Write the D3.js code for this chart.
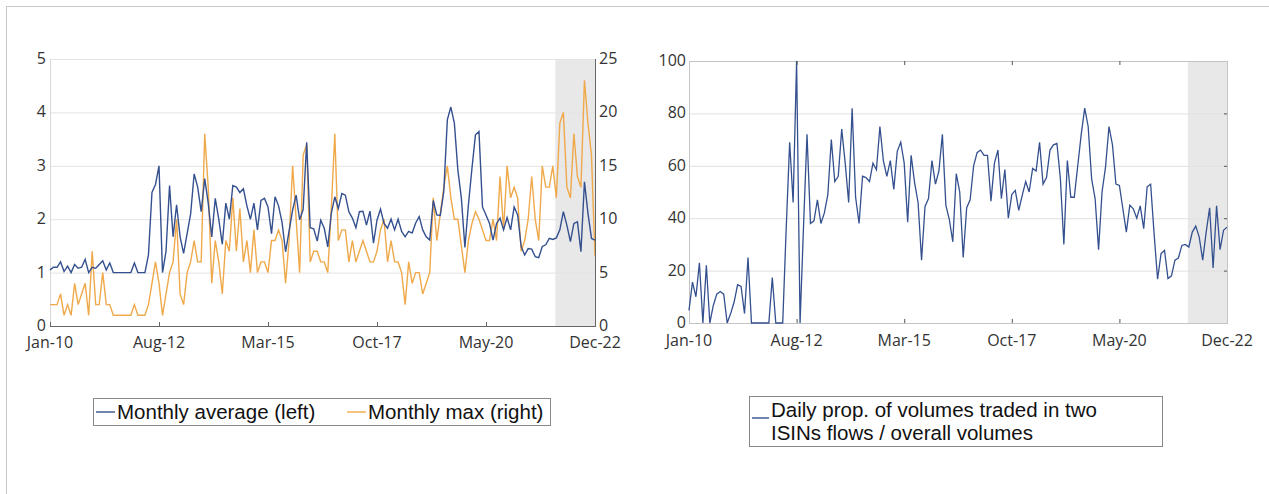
<!DOCTYPE html>
<html>
<head>
<meta charset="utf-8">
<script src="https://cdn.jsdelivr.net/npm/d3@7"></script>
<style>
	body { margin: 0; background: #fff; }
	svg { display: block; }
	.tick-label { font-family: "Open Sans", sans-serif; font-size: 16px; fill: #333; }
	.legend-text { font-family: "Liberation Sans", Arial, sans-serif; font-size: 20.5px; fill: #111; }
</style>
</head>
<body>
<div id="chart"></div>
<script>
// month categories Jan-10 .. Dec-22
var months = d3.timeMonth.range(new Date(2010, 0, 1), new Date(2023, 0, 1));
var tickLabels = ["Jan-10", "Aug-12", "Mar-15", "Oct-17", "May-20", "Dec-22"];
var shadeFrom = "Jan-22";

// left panel: monthly average (left axis)
var monthlyAvg = [
	1.05,1.1,1.1,1.2,1.02,1.12,1.0,1.15,1.08,1.1,1.25,1.0,1.1,1.08,1.15,1.22,1.05,1.18,
	1.0,1.0,1.0,1.0,1.0,1.0,1.18,1.0,1.0,1.0,1.33,
	2.5,2.65,3.0,1.0,1.4,2.63,1.67,2.27,1.67,1.36,1.73,2.1,2.85,2.6,2.14,
	2.76,2.3,1.67,2.39,2.0,1.53,2.3,2.0,2.63,2.6,2.5,2.57,
	2.25,2.0,2.3,1.8,2.35,2.39,2.23,1.73,2.42,2.25,1.94,1.39,1.78,2.17,2.45,1.99,2.18,3.44,1.84,1.82,
	1.59,1.98,1.83,1.48,2.11,2.42,2.2,2.48,2.45,2.14,2.02,1.84,2.14,2.15,1.89,2.15,1.55,1.98,2.19,1.92,
	1.83,2.0,1.8,2.0,1.77,1.67,1.77,1.74,1.93,2.05,1.8,1.67,1.61,
	2.35,2.08,2.07,2.52,3.86,4.1,3.8,2.92,2.39,1.47,2.27,2.95,3.58,3.64,2.23,2.08,1.92,
	1.61,1.92,2.02,1.8,2.03,1.8,2.23,2.08,1.49,1.33,1.45,1.44,1.3,1.28,1.49,1.52,1.64,1.62,
	1.65,1.8,2.14,1.89,1.58,1.92,1.95,1.39,2.7,2.11,1.64,1.61
];

// left panel: monthly max (right axis)
var monthlyMax = [
	2,2,2,3,1,2,1,4,2,3,4,1,7,2,2,5,2,2,
	1,1,1,1,1,1,2,1,1,1,2,
	4,6,4,1,3,5,6,10,3,2,5,6,8,6,6,
	18,13,4,8,6,3,8,7,12,7,11,6,
	8,5,9,5,6,6,5,8,8,9,8,4,8,15,10,5,16,17,6,7,
	7,6,6,5,11,18,8,9,9,6,8,6,7,8,7,6,6,7,9,10,
	6,8,6,6,5,2,6,4,5,5,3,4,5,
	12,8,10.5,13,15,12,10,10,7.5,5,8,9.6,10.7,10,9,8,8,
	10,8,14,9,15,12,13,12,7,8,10,14,10,8,15,13,13,15,
	12,19,20,13,12,18,14,13,23,19,16,6.5
];

// right panel: daily prop. of volumes in two ISINs flows (%)
var twoIsinProp = [
	4.8,15.6,10,23,0,22,0,6.7,11,12,11,0,3.6,8,14.6,14,3.6,25,
	0,0,0,0,0,0,17.3,0,0,0,36,
	69,46,100,0,37,72,38,39,47,38,42,49,70,54,56,
	74,61,46,82,48,38,56,55.5,54,61,58.5,75,
	62,56,62,51,65.5,69,61,38.5,64,53.5,46,24,44.5,47.5,62,53,58,72,45,39.5,
	31,57,50,25,44,47,60,65,66,64,64,46.5,61,66,47.5,58.6,40,49,50.6,43,
	48.7,54,50,59,58,69,53,55.5,66,68,68.5,55,30,
	62,48,48,60,72,82,75,55,47.5,28,50,59.5,75,68,53,52.5,43.6,
	34.7,45,43.6,40,44.7,36,52,53,34,16.7,26.5,27.7,17,18,24,24.8,29.6,30,
	29,34.7,37,32.8,24,34.7,44,21,44.7,28,35.4,36.6
];

var leftTicks = [0, 1, 2, 3, 4, 5];
var rightTicks = [0, 5, 10, 15, 20, 25];
var propTicks = [0, 20, 40, 60, 80, 100];

var fmt = d3.timeFormat("%b-%y");
var blue = "#34508f", orange = "#efa94a", shade = "#e8e8e8";

var svg = d3.select("#chart")
	.append("svg")
	.attr("width", 1269)
	.attr("height", 494);

svg.append("rect").attr("width", 1269).attr("height", 494).attr("fill", "#fff");

// outer frame (top and left edges only visible)
svg.append("line").attr("x1", 6).attr("x2", 1269).attr("y1", 6.5).attr("y2", 6.5).attr("stroke", "#c8c8c8");
svg.append("line").attr("x1", 6.5).attr("x2", 6.5).attr("y1", 6).attr("y2", 494).attr("stroke", "#c8c8c8");

var tickIdx = tickLabels.map(function(t) {
	return months.findIndex(function(m) { return fmt(m) === t; });
});
var shadeIdx = months.findIndex(function(m) { return fmt(m) === shadeFrom; });

// ---------- left panel ----------
var x1 = d3.scaleLinear().domain([0, months.length - 1]).range([50, 595]);
var yL = d3.scaleLinear().domain([0, 5]).range([326, 59]);
var yR = d3.scaleLinear().domain([0, 25]).range([326, 59]);

var g1 = svg.append("g");

g1.append("rect")
	.attr("x", x1(shadeIdx - 0.3))
	.attr("y", yL(5))
	.attr("width", x1(months.length - 1) - x1(shadeIdx - 0.3))
	.attr("height", yL(0) - yL(5))
	.attr("fill", shade);

g1.selectAll("line.grid")
	.data(leftTicks.slice(1))
	.enter().append("line")
	.attr("class", "grid")
	.attr("x1", x1(0)).attr("x2", x1(months.length - 1))
	.attr("y1", function(d) { return yL(d) + 0.5; })
	.attr("y2", function(d) { return yL(d) + 0.5; })
	.attr("stroke", "#e3e3e3");

g1.append("line")
	.attr("x1", x1(0) + 0.5).attr("x2", x1(0) + 0.5)
	.attr("y1", yL(5)).attr("y2", yL(0))
	.attr("stroke", "#d8d8d8");

var lineAvg = d3.line()
	.x(function(d, i) { return x1(i); })
	.y(function(d) { return yL(d); });
var lineMax = d3.line()
	.x(function(d, i) { return x1(i); })
	.y(function(d) { return yR(d); });

g1.append("path").datum(monthlyMax)
	.attr("d", lineMax).attr("fill", "none")
	.attr("stroke", orange).attr("stroke-width", 1.4);
g1.append("path").datum(monthlyAvg)
	.attr("d", lineAvg).attr("fill", "none")
	.attr("stroke", blue).attr("stroke-width", 1.4);

// bottom and right axis lines
g1.append("line")
	.attr("x1", x1(0)).attr("x2", x1(months.length - 1) + 1)
	.attr("y1", yL(0) + 0.5).attr("y2", yL(0) + 0.5)
	.attr("stroke", "#666");
g1.append("line")
	.attr("x1", x1(months.length - 1) + 0.5).attr("x2", x1(months.length - 1) + 0.5)
	.attr("y1", yL(5)).attr("y2", yL(0))
	.attr("stroke", "#666");

g1.selectAll("line.xtick")
	.data(tickIdx)
	.enter().append("line")
	.attr("class", "xtick")
	.attr("x1", function(d) { return x1(d) + 0.5; })
	.attr("x2", function(d) { return x1(d) + 0.5; })
	.attr("y1", yL(0)).attr("y2", yL(0) - 4)
	.attr("stroke", "#666");

g1.selectAll("text.xlab")
	.data(tickIdx)
	.enter().append("text")
	.attr("class", "tick-label")
	.attr("x", function(d) { return x1(d); })
	.attr("y", 348)
	.attr("text-anchor", "middle")
	.text(function(d, i) { return tickLabels[i]; });

g1.selectAll("text.ylab")
	.data(leftTicks)
	.enter().append("text")
	.attr("class", "tick-label")
	.attr("x", 46)
	.attr("y", function(d) { return yL(d) + 5; })
	.attr("text-anchor", "end")
	.text(function(d) { return d; });

g1.selectAll("text.rlab")
	.data(rightTicks)
	.enter().append("text")
	.attr("class", "tick-label")
	.attr("x", 599)
	.attr("y", function(d) { return yR(d) + 5; })
	.text(function(d) { return d; });

// legend
var leg1 = svg.append("g");
leg1.append("rect")
	.attr("x", 93.5).attr("y", 398.5).attr("width", 457).attr("height", 27)
	.attr("fill", "#fff").attr("stroke", "#888");
leg1.append("line").attr("x1", 96).attr("x2", 115).attr("y1", 412).attr("y2", 412)
	.attr("stroke", blue).attr("stroke-width", 1.4);
leg1.append("text").attr("class", "legend-text").attr("x", 117).attr("y", 419)
	.text("Monthly average (left)");
leg1.append("line").attr("x1", 347).attr("x2", 366).attr("y1", 412).attr("y2", 412)
	.attr("stroke", orange).attr("stroke-width", 1.4);
leg1.append("text").attr("class", "legend-text").attr("x", 368).attr("y", 419)
	.text("Monthly max (right)");

// ---------- right panel ----------
var x2 = d3.scaleLinear().domain([0, months.length - 1]).range([689, 1227]);
var y2 = d3.scaleLinear().domain([0, 100]).range([323, 61]);

var g2 = svg.append("g");

g2.append("rect")
	.attr("x", x2(shadeIdx - 0.3))
	.attr("y", y2(100))
	.attr("width", x2(months.length - 1) - x2(shadeIdx - 0.3))
	.attr("height", y2(0) - y2(100))
	.attr("fill", shade);

g2.selectAll("line.grid")
	.data(propTicks.slice(1, -1))
	.enter().append("line")
	.attr("x1", x2(0)).attr("x2", x2(months.length - 1))
	.attr("y1", function(d) { return y2(d) + 0.5; })
	.attr("y2", function(d) { return y2(d) + 0.5; })
	.attr("stroke", "#e0e0e0");

g2.append("rect")
	.attr("x", x2(0) + 0.5).attr("y", y2(100) + 0.5)
	.attr("width", x2(months.length - 1) - x2(0))
	.attr("height", y2(0) - y2(100))
	.attr("fill", "none").attr("stroke", "#c4c4c4");

g2.append("path").datum(twoIsinProp)
	.attr("d", d3.line()
		.x(function(d, i) { return x2(i); })
		.y(function(d) { return y2(d); }))
	.attr("fill", "none")
	.attr("stroke", blue).attr("stroke-width", 1.3);

// ticks on top, bottom and right edges
g2.selectAll("line.tb")
	.data(tickIdx.slice(1, -1))
	.enter().append("line")
	.attr("x1", function(d) { return x2(d) + 0.5; })
	.attr("x2", function(d) { return x2(d) + 0.5; })
	.attr("y1", y2(100)).attr("y2", y2(100) + 4)
	.attr("stroke", "#555");
g2.selectAll("line.bb")
	.data(tickIdx.slice(1, -1))
	.enter().append("line")
	.attr("x1", function(d) { return x2(d) + 0.5; })
	.attr("x2", function(d) { return x2(d) + 0.5; })
	.attr("y1", y2(0)).attr("y2", y2(0) - 4)
	.attr("stroke", "#555");
g2.selectAll("line.rt")
	.data(propTicks.slice(1, -1))
	.enter().append("line")
	.attr("x1", x2(months.length - 1) - 3).attr("x2", x2(months.length - 1))
	.attr("y1", function(d) { return y2(d) + 0.5; })
	.attr("y2", function(d) { return y2(d) + 0.5; })
	.attr("stroke", "#555");

g2.selectAll("text.xlab")
	.data(tickIdx)
	.enter().append("text")
	.attr("class", "tick-label")
	.attr("x", function(d) { return x2(d); })
	.attr("y", 346)
	.attr("text-anchor", "middle")
	.text(function(d, i) { return tickLabels[i]; });

g2.selectAll("text.ylab")
	.data(propTicks)
	.enter().append("text")
	.attr("class", "tick-label")
	.attr("x", 686)
	.attr("y", function(d) { return y2(d) + 5; })
	.attr("text-anchor", "end")
	.text(function(d) { return d; });

var leg2 = svg.append("g");
leg2.append("rect")
	.attr("x", 749.5).attr("y", 396.5).attr("width", 413).attr("height", 50)
	.attr("fill", "#fff").attr("stroke", "#888");
leg2.append("line").attr("x1", 752).attr("x2", 769).attr("y1", 418).attr("y2", 418)
	.attr("stroke", blue).attr("stroke-width", 1.4);
leg2.append("text").attr("class", "legend-text").attr("x", 771).attr("y", 417)
	.text("Daily prop. of volumes traded in two");
leg2.append("text").attr("class", "legend-text").attr("x", 771).attr("y", 440)
	.text("ISINs flows / overall volumes");
</script>
</body>
</html>
